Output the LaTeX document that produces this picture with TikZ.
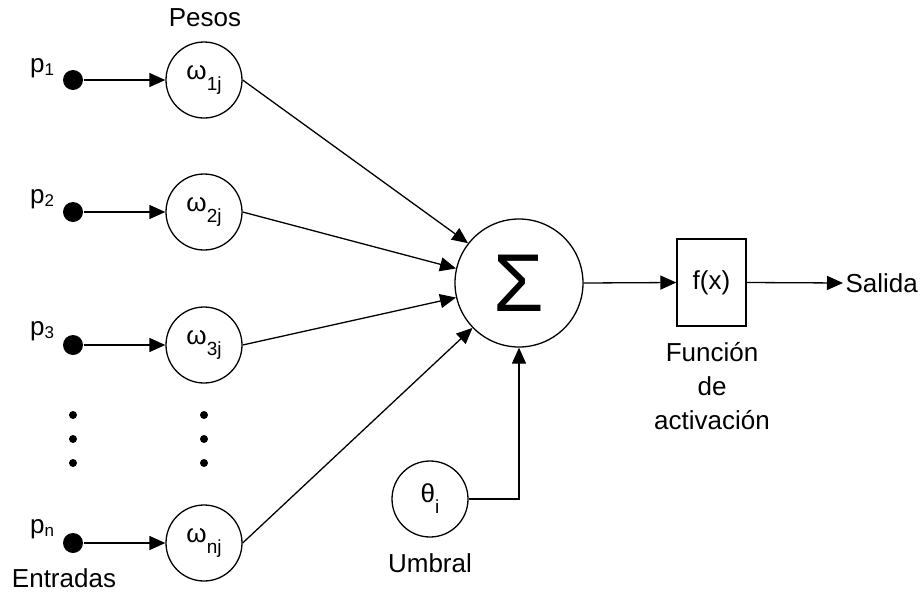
\documentclass[tikz,border=0pt]{standalone}
\usepackage{fontspec}
\setmainfont{Liberation Sans}
\usetikzlibrary{arrows.meta}
\newcommand\sbs[1]{\raisebox{-0.42em}{\fontsize{19}{19}\selectfont #1}}
\newcommand\psb[1]{\raisebox{-0.12em}{\fontsize{17}{17}\selectfont #1}}
\begin{document}
\begin{tikzpicture}[x=1pt,y=-1pt, line width=1.3pt,
  wnode/.style={draw, circle, minimum size=76pt, inner sep=0pt, font=\fontsize{26}{30}\selectfont},
  indot/.style={circle, fill, minimum size=20pt, inner sep=0pt},
  smalldot/.style={circle, fill, minimum size=8pt, inner sep=0pt},
  arr/.style={-{Triangle[length=16pt,width=14pt]}},
  lbl/.style={font=\fontsize{26}{34}\selectfont, inner sep=0pt}]
\useasboundingbox (0,0) rectangle (922,592);
% inputs
\node[indot] (p1) at (73,80) {};
\node[indot] (p2) at (73,212) {};
\node[indot] (p3) at (73,345) {};
\node[indot] (pn) at (73,543) {};
\node[lbl] (lp1) at (42,68) {p\psb{1}};
\node[lbl] (lp2) at (42,199) {p\psb{2}};
\node[lbl] (lp3) at (42,331) {p\psb{3}};
\node[lbl] (lpn) at (42,529) {p\psb{n}};
% weights
\node[wnode] (w1) at (204,80) {ω\sbs{1j}};
\node[wnode] (w2) at (204,212) {ω\sbs{2j}};
\node[wnode] (w3) at (204,345) {ω\sbs{3j}};
\node[wnode] (wn) at (204,543) {ω\sbs{nj}};
% ellipsis dots
\foreach \x/\n in {73/a,204/b}{
  \node[smalldot] (d1\n) at (\x,415) {};
  \node[smalldot] (d2\n) at (\x,439) {};
  \node[smalldot] (d3\n) at (\x,463) {};
}
% sum
\node[draw, circle, minimum size=128pt, inner sep=0pt, font=\fontsize{82}{82}\selectfont] (sig) at (519,283) {Σ};
% threshold
\node[wnode] (th) at (430,499) {θ\sbs{i}};
% activation
\node[draw, minimum width=69pt, minimum height=87pt, inner sep=0pt, font=\fontsize{26}{30}\selectfont] (fx) at (711.5,282.5) {f(x)};
\coordinate (out) at (843,283);
% labels
\node[lbl] (pesos) at (205,18) {Pesos};
\node[lbl] (entr) at (64,578) {Entradas};
\node[lbl] (umb) at (430,563) {Umbral};
\node[lbl, align=center] (fun) at (712,386) {Función\\de\\activación};
\node[lbl, anchor=west] (sal) at (845,283) {Salida};
% connectors
\draw[arr] (p1) -- (w1);
\draw[arr] (p2) -- (w2);
\draw[arr] (p3) -- (w3);
\draw[arr] (pn) -- (wn);
\draw[arr] (w1.east) -- (sig.142);
\draw[arr] (w2.east) -- (sig.167);
\draw[arr] (w3.east) -- (sig.193);
\draw[arr] (wn.east) -- (sig.224);
\draw[arr] (th.east) -| (sig.south);
\draw[arr] (sig.east) -- (fx.west);
\draw[arr] (fx.east) -- (out);
\end{tikzpicture}
\end{document}
